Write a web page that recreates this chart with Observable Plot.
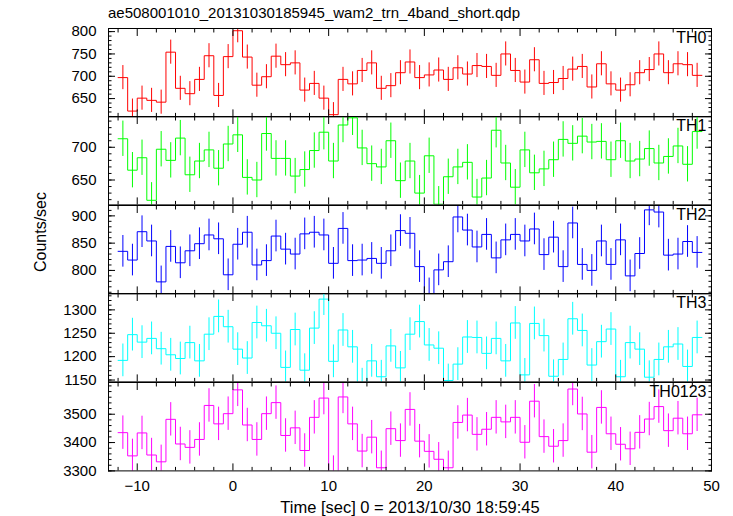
<!DOCTYPE html>
<html><head><meta charset="utf-8">
<script src="https://cdn.jsdelivr.net/npm/d3@7"></script>
<script src="https://cdn.jsdelivr.net/npm/@observablehq/plot@0.6"></script>
<style>
body{margin:0;background:#fff;font-family:"Liberation Sans",Arial,sans-serif;}
#chart{position:relative;width:733px;height:516px;overflow:hidden;background:#fff;}
#chart svg{position:absolute;left:0;overflow:visible;background:transparent;}
.lbl{position:absolute;font-size:15px;color:#000;white-space:nowrap;line-height:1;}
</style></head><body>
<div id="chart">
<div class="lbl" style="left:108px;top:5px;">ae508001010_20131030185945_wam2_trn_4band_short.qdp</div>
<div class="lbl" style="left:41px;top:232px;font-size:16px;transform:translate(-50%,-50%) rotate(-90deg);">Counts/sec</div>
<div class="lbl" style="left:410px;top:507px;font-size:16.5px;transform:translate(-50%,-50%);">Time [sec] 0 = 2013/10/30 18:59:45</div>
</div>
<script>
const binCenters = [-11.5,-10.5,-9.5,-8.5,-7.5,-6.5,-5.5,-4.5,-3.5,-2.5,-1.5,-0.5,0.5,1.5,2.5,3.5,4.5,5.5,6.5,7.5,8.5,9.5,10.5,11.5,12.5,13.5,14.5,15.5,16.5,17.5,18.5,19.5,20.5,21.5,22.5,23.5,24.5,25.5,26.5,27.5,28.5,29.5,30.5,31.5,32.5,33.5,34.5,35.5,36.5,37.5,38.5,39.5,40.5,41.5,42.5,43.5,44.5,45.5,46.5,47.5,48.5];

const th0 = [697,622,651,646,642,754,673,661,693,746,657,744,802,743,680,699,745,726,730,669,684,651,614,693,683,713,730,673,679,708,732,697,703,714,693,719,705,724,722,702,750,713,687,737,684,686,695,716,722,676,728,683,669,681,708,715,750,708,728,726,702];
const th1 = [713,665,684,619,697,680,714,658,679,696,668,705,719,654,650,721,683,683,656,666,695,723,679,734,745,699,675,670,710,649,679,630,687,613,655,670,677,624,653,726,676,639,696,661,667,681,712,706,717,708,709,681,710,679,682,698,676,686,702,674,724];
const th2 = [835,819,871,854,779,844,814,836,849,865,858,792,848,870,810,818,863,839,830,867,870,865,813,877,818,819,822,813,836,873,868,807,757,801,816,898,874,843,866,823,856,866,854,876,829,861,807,887,811,800,854,811,856,790,831,911,907,828,830,853,833];
const th3 = [1192,1247,1231,1239,1217,1204,1196,1230,1191,1248,1286,1264,1216,1197,1273,1266,1250,1177,1258,1171,1261,1323,1190,1257,1221,1140,1191,1157,1223,1176,1248,1275,1225,1218,1149,1184,1242,1241,1207,1239,1191,1272,1161,1271,1245,1158,1194,1281,1256,1182,1232,1259,1157,1230,1216,1156,1194,1221,1227,1179,1241];
const th0123 = [3435,3353,3434,3356,3332,3482,3395,3383,3411,3531,3466,3502,3586,3462,3411,3502,3541,3425,3452,3372,3489,3557,3294,3561,3466,3370,3419,3311,3449,3407,3517,3405,3369,3341,3311,3471,3497,3429,3447,3489,3473,3489,3401,3546,3421,3387,3407,3589,3501,3366,3524,3431,3394,3378,3436,3483,3527,3442,3486,3431,3498];

const panelNames = ["TH0","TH1","TH2","TH3","TH0123"];
const panelErrors = [27, 27, 29, 35, 59];
const th0Ticks = [650,700,750,800];
const th1Ticks = [650,700];
const th2Ticks = [800,850,900];
const th3Ticks = [1150,1200,1250,1300];
const th0123Ticks = [3300,3400,3500];
const xTickLabels = [-10,0,10,20,30,40,50];

const panels = [
  {name: panelNames[0], values: th0, err: panelErrors[0], color: "#ff0000", domain: [609, 807], major: th0Ticks, minor: d3.range(610, 807, 10)},
  {name: panelNames[1], values: th1, err: panelErrors[1], color: "#00ff00", domain: [612, 747], major: th1Ticks, minor: d3.range(620, 747, 10)},
  {name: panelNames[2], values: th2, err: panelErrors[2], color: "#0000ff", domain: [757, 919], major: th2Ticks, minor: d3.range(760, 919, 10)},
  {name: panelNames[3], values: th3, err: panelErrors[3], color: "#00ffff", domain: [1146, 1335], major: th3Ticks, minor: d3.range(1150, 1335, 10)},
  {name: panelNames[4], values: th0123, err: panelErrors[4], color: "#ff00ff", domain: [3300, 3612], major: th0123Ticks, minor: d3.range(3300, 3612, 20)}
];

const xMinor = d3.range(-12, 51, 2).filter(v => v % 10 !== 0);
const PT = 28, PH = 88.4;
const chart = document.getElementById("chart");

panels.forEach((p, i) => {
  const rows = binCenters.map((t, j) => ({t, v: p.values[j]}));
  const steps = rows.flatMap(d => [{x: d.t - 0.5, y: d.v}, {x: d.t + 0.5, y: d.v}]);
  const last = i === panels.length - 1;
  const mt = 12, mb = last ? 40 : 12;
  const marks = [
    Plot.ruleX(rows, {x: "t", y1: d => d.v - p.err, y2: d => d.v + p.err, stroke: p.color, strokeWidth: 1, clip: true}),
    Plot.line(steps, {x: "x", y: "y", stroke: p.color, strokeWidth: 1, clip: true}),
    Plot.frame({stroke: "#000", strokeWidth: 1}),
    Plot.axisY({anchor: "left", ticks: p.major, tickSize: -7, tickFormat: () => "", label: null}),
    Plot.axisY({anchor: "left", ticks: p.minor, tickSize: -3.5, tickFormat: () => "", label: null}),
    Plot.axisY({anchor: "right", ticks: p.major, tickSize: -7, tickFormat: () => "", label: null}),
    Plot.axisY({anchor: "right", ticks: p.minor, tickSize: -3.5, tickFormat: () => "", label: null}),
    Plot.axisY({anchor: "left", ticks: p.major, tickSize: 0, tickPadding: 12, label: null, tickFormat: d => String(d)}),
    Plot.axisX({anchor: "top", ticks: xTickLabels, tickSize: -7, tickFormat: () => "", label: null}),
    Plot.axisX({anchor: "top", ticks: xMinor, tickSize: -3.5, tickFormat: () => "", label: null}),
    Plot.axisX({anchor: "bottom", ticks: xTickLabels, tickSize: -7, tickFormat: () => "", label: null}),
    Plot.axisX({anchor: "bottom", ticks: xMinor, tickSize: -3.5, tickFormat: () => "", label: null}),
    Plot.text([p.name], {frameAnchor: "top-right", text: d => d, textAnchor: "end", lineAnchor: "top", dx: -5, dy: 3, fontSize: 16, fill: "#000"})
  ];
  if (last) {
    marks.push(Plot.axisX({anchor: "bottom", ticks: xTickLabels, tickSize: 0, tickPadding: 9, label: null, tickFormat: d => d < 0 ? "\u2212" + Math.abs(d) : String(d)}));
  }
  const svg = Plot.plot({
    width: 733,
    height: PH + mt + mb,
    marginLeft: 108, marginRight: 22, marginTop: mt, marginBottom: mb,
    x: {domain: [-13, 50]},
    y: {domain: p.domain},
    style: {fontFamily: "Liberation Sans, Arial, sans-serif", fontSize: "15px", background: "transparent", overflow: "visible", color: "#000"},
    marks
  });
  svg.style.top = (PT + i * PH - mt) + "px";
  chart.appendChild(svg);
});
</script>
</body></html>
